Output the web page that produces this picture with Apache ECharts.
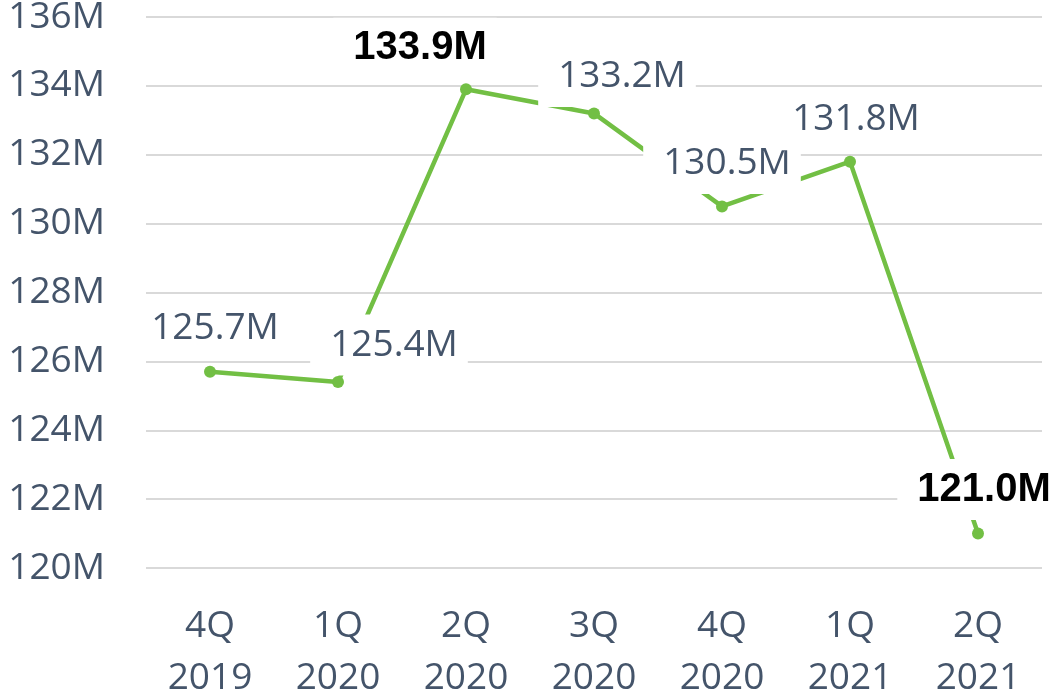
<!DOCTYPE html>
<html lang="en">
<head>
	<meta charset="UTF-8">
	<title>Quarterly</title>
	<script src="https://cdn.jsdelivr.net/npm/echarts@6/dist/echarts.min.js"></script>
	<style>
		html,body{margin:0;padding:0;background:#fff;}
	</style>
</head>
<body>
	<div id="chart" style="width:1054px; height:695px;"></div>
<script>
	// 数据
	var quarters = ['4Q\n2019', '1Q\n2020', '2Q\n2020', '3Q\n2020', '4Q\n2020', '1Q\n2021', '2Q\n2021'];
	var values = [125.7, 125.4, 133.9, 133.2, 130.5, 131.8, 121.0];
	var boldIdx = [2, 6]; // 最大值、最小值加粗
	var labelOffsets = [[0, -43], [51, -37], [-51, -41], [23, -37], [0, -43], [1, -42], [1, -44]];

	var txtColor = '#44546A';

	function makeData(){
		var arr = [];
		for (var i = 0; i < values.length; i++) {
			var bold = boldIdx.indexOf(i) > -1;
			arr.push({
				value: values[i],
				label: {
					offset: labelOffsets[i],
					color: bold ? '#000' : txtColor,
					fontFamily: bold ? 'Liberation Sans' : 'Open Sans',
					fontWeight: bold ? 'bold' : 'normal',
					fontSize: bold ? 40 : 37
				}
			});
		}
		return arr;
	}

	var option = {
		animation: false,
		grid: {left: 146, right: 12, top: 17, bottom: 127, outerBoundsMode: 'none', containLabel: false},
		xAxis: {
			type: 'category',
			data: quarters,
			axisLine: {show: false},
			axisTick: {show: false},
			axisLabel: {
				color: txtColor,
				fontFamily: 'Open Sans',
				fontSize: 37,
				lineHeight: 52,
				margin: 32
			}
		},
		yAxis: {
			type: 'value',
			min: 120,
			max: 136,
			interval: 2,
			axisLine: {show: false},
			axisTick: {show: false},
			axisLabel: {
				color: txtColor,
				fontFamily: 'Open Sans',
				fontSize: 37,
				margin: 41,
				formatter: '{value}M'
			},
			splitLine: {lineStyle: {color: '#D9D9D9', width: 2}}
		},
		series: [{
			type: 'line',
			data: makeData(),
			symbol: 'circle',
			symbolSize: 12,
			lineStyle: {color: '#72BF44', width: 4.5},
			itemStyle: {color: '#72BF44'},
			label: {
				show: true,
				position: 'inside',
				backgroundColor: '#fff',
				padding: [12, 10, 12, 20],
				lineHeight: 37,
				formatter: function(p){ return p.value.toFixed(1) + 'M'; }
			},
			z: 3
		}]
	};
	var myChart = echarts.init(document.getElementById('chart'));
	myChart.setOption(option);
</script>
</body>
</html>
